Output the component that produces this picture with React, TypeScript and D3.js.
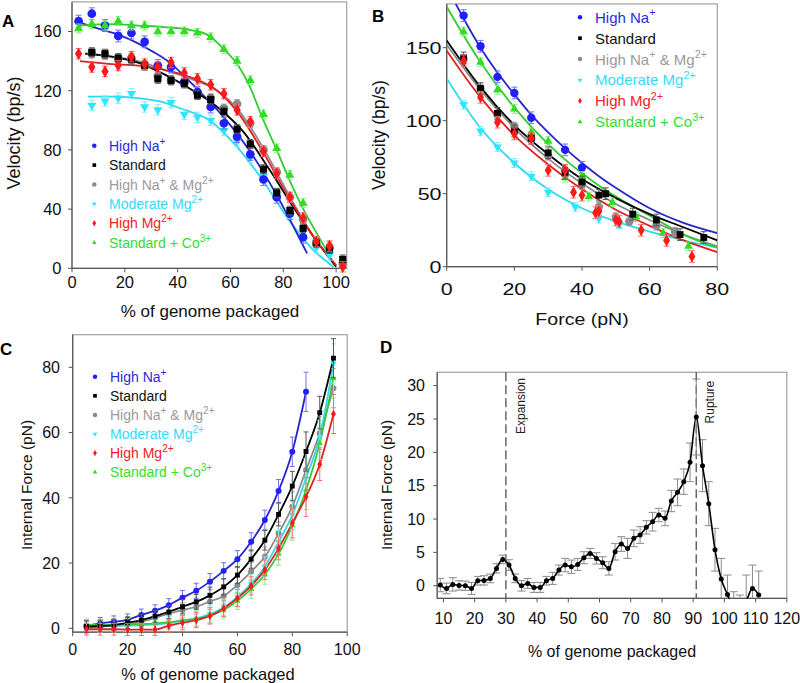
import React from 'react';
import * as d3 from 'd3';

const width = 800;
const height = 683;
const font = 'Liberation Sans, Arial, sans-serif';

// ---------- panel A: velocity vs % of genome packaged ----------
const xA = [2.5, 7.5, 12.5, 17.5, 22.5, 27.5, 32.5, 37.5, 42.5, 47.5, 52.5, 57.5, 62.5, 67.5, 72.5, 77.5, 82.5, 87.5, 92.5, 97.5, 102.5];
const aHighNa = [167, 172, 164, 157, 159, 153, 137, 136, 126, 119, 109, 98, 89, 77, 60, 48, 37, 21, null, null, null];
const aStd = [null, 146, 145, 142, 141, 137, 128, 127, 125, 117, 114, 106, 94, 84, 67, 51, 39, 27, 17, 13, 6];
const aNaMg = [null, 145, 144, 142, 142, 137, 130, 127, 125, 119, 115, 108, 111, 98, 80, 65, 48, 33, 17, 14, 3];
const aModMg = [null, 110, 113, 115, 118, 109, 107, 112, 104, 102, 100, 93, 86, 75, 62, 50, 37, 25, 14, 9, null];
const aHighMg = [145, 136, 133, 137, 143, 138, 136, 139, 132, 128, 124, 118, 107, 99, 79, 64, 48, 34, 18, 15, 1];
const aCo = [162, 165, 164, 167, 164, 164, 160, 160, 160, 159, 156, 148, 140, 127, 104, 81, 63, 44, null, 15, null];
// error bar half widths, legend order
const errA = [4, 3, 3, 3.5, 3.5, 3];

// fitted curves
const fitAHighNa = [[3, 166], [10, 162], [18, 157.6], [25, 152], [30, 147], [37, 139], [43, 129], [48, 120], [57, 103], [67, 80], [77, 51], [89, 10]];
const fitAStd = [[5, 145], [15, 143], [25, 139], [35, 131], [45, 121], [55, 109], [65, 92], [75, 66], [85, 38], [92, 20], [100, 1]];
const fitANaMg = [[5, 145], [15, 143], [25, 140], [35, 134], [45, 128], [55, 120], [62.5, 108], [72.5, 81], [82, 50], [91.6, 21], [100, 2]];
const fitAModMg = [[6, 116], [15, 116], [25, 115], [35, 112], [41, 108], [52, 100], [62.5, 82], [72, 60], [82, 33], [91, 13], [99, 1]];
const fitAHighMg = [[3, 140], [15, 138], [25, 137], [35, 134], [45, 129], [55, 120], [62.5, 106], [72.5, 78], [82, 48], [91.6, 21], [100, 2]];
const fitACo = [[3, 164], [15, 165], [25, 164], [35, 163], [45, 161], [52, 157], [57.5, 148], [62.5, 138], [67.5, 122], [72, 102], [77.5, 80], [82, 61], [87, 42], [95.4, 15], [99, 3]];

// ---------- panel B: velocity vs force ----------
const bHighNaX = [5, 10, 15, 20, 25, 35, 40];
const bHighNaY = [172, 151, 130, 119, 102, 80, 68];
const bStdX = [5, 10, 15, 20, 25, 30, 35, 40, 45, 47, 55, 62, 69, 76];
const bStdY = [143, 122, 105, 93, 88, 78, 64, 58, 49, 50, 36, 32, 22, 20];
const bNaMgX = [5, 10, 15, 20, 25, 30, 35, 40, 45, 50, 54, 62, 67.5];
const bNaMgY = [142, 122, 104, 96, 88, 76, 66, 57, 41, 34, 31, 28, 24];
const bModMgX = [5, 10, 15, 20, 25, 30, 38, 45, 51];
const bModMgY = [111, 93, 82, 71, 62, 51, 41, 33, 29];
const bHighMgX = [5, 10, 15, 20, 25, 30, 35, 37.5, 40, 44, 45, 50, 51, 57.5, 65, 72.5];
const bHighMgY = [141, 116, 99, 91, 88, 66, 66, 51, 49, 37, 38, 32, 31, 25, 18, 7];
const bCoX = [5, 10, 15, 20, 25, 30, 35, 40, 42, 49, 56, 64, 71.5];
const bCoY = [161, 140, 121, 108, 92, 86, 61, 62, 48, 44, 34, 23, 14];
const errB = [4, 4, 3, 3, 4, 3];

const fitBHighNa = [[0, 192], [5, 170], [10, 150], [15, 133], [20, 118], [25, 104], [30, 92], [35, 81], [40, 71], [45, 62], [50, 54], [60, 40], [70, 30], [80, 23]];
const fitBStd = [[0, 155], [10, 123], [20, 97], [30, 77], [40, 60], [50, 47], [60, 36], [70, 27], [80, 18]];
const fitBNaMg = [[0, 152], [10, 121], [20, 95], [30, 74], [40, 57], [50, 43], [60, 32], [70, 22], [80, 14]];
const fitBModMg = [[0, 129], [10, 95], [20, 71], [30, 53], [40, 40], [50, 31], [60, 24], [70, 18], [80, 13]];
const fitBHighMg = [[0, 148], [10, 116], [20, 90], [30, 70], [40, 53], [50, 39], [60, 28], [70, 18], [80, 10]];
const fitBCo = [[0, 178], [10, 140], [20, 109], [30, 84], [40, 64], [50, 48], [60, 35], [70, 22], [80, 13]];

// ---------- panel C: internal force vs % packaged ----------
const xC = [5, 10, 15, 20, 25, 30, 35, 40, 45, 50, 55, 60, 65, 70, 75, 80, 85, 90, 95];
const cHighNa = [0.8, 1.5, 2, 2.6, 4.1, 5.4, 7.1, 9.4, 11.5, 14.3, 17.6, 21.2, 26.5, 33.2, 42.1, 54.1, 72.5, null, null];
const cStd = [0.5, 0.7, 1, 1.7, 2.5, 3.7, 5, 6.6, 8.1, 10.1, 12.7, 16.3, 21.2, 27, 34.9, 43.6, 54.2, 66.1, 82.8];
const cNaMg = [0.3, 0.5, 0.9, 1.3, 2, 3.2, 4.5, 5.6, 6.6, 8.2, 9.9, 13.3, 17.4, 21.9, 29.1, 37.3, 48.5, 59.8, 73.6];
const cModMg = [0.5, 0.6, 0.7, 0.8, 1, 1.2, 1.6, 2.4, 3, 4.4, 6.4, 9.6, 13.6, 18.9, 26.5, 34.7, 46, 58.7, 81.2];
const cHighMg = [-0.3, -0.3, -0.3, -0.4, -0.4, -0.4, 0.8, 1.7, 2.5, 3.8, 6.1, 9.2, 13, 17.9, 24.5, 32.2, 40.3, 50.3, 65.7];
const cCo = [1, 1, 1.1, 1.2, 1.3, 1.5, 1.9, 2.4, 2.9, 3.9, 5.6, 8.4, 12, 16.5, 22.8, 31.5, 42.4, 56.7, 76.6];
const errC = [1.8, 1.8, 1.8, 1.8, 1.8, 1.8, 2, 2.2, 2.3, 2.5, 2.5, 2.6, 2.8, 3, 3.5, 4.5, 6, 5, 6];

// ---------- panel D: internal force, standard conditions ----------
const xD = [9, 11, 13, 15, 17, 19, 21, 23, 25, 27, 29, 31, 33, 35, 37, 39, 41, 43, 45, 47, 49, 51, 53, 55, 57, 59, 61, 63, 65, 67, 69, 71, 73, 75, 77, 79, 81, 83, 85, 87, 89, 91, 93, 95, 97, 99, 101, 103, 105, 107, 109, 111];
const dForce = [0.1, -0.4, 0.2, 0.05, 0, -0.4, 0.75, 0.8, 1.1, 2.6, 3.95, 3.1, 1.1, 0, 0.35, -0.25, -0.25, 0.75, 1.1, 2.35, 3.1, 2.85, 3.2, 4.2, 4.85, 4.1, 3.45, 2.6, 5.1, 6.25, 5.6, 7.1, 7.6, 8.75, 9.6, 10.6, 10.1, 12.7, 14, 15.6, 18.5, 25.3, 18, 12.3, 5.4, 1, -1.3, -3.2, -3.5, -2.3, -0.4, -1.4];
const dErr = [1, 0.8, 1, 0.7, 0.7, 0.9, 0.65, 0.7, 0.65, 0.7, 0.65, 0.8, 0.65, 0.8, 0.75, 0.75, 0.75, 0.65, 0.9, 0.75, 1, 1, 0.9, 0.9, 0.75, 0.85, 0.9, 1, 1.25, 1.1, 1.5, 1.25, 1.25, 1, 1.4, 1, 1.1, 1.6, 2, 1.9, 2.9, 5.7, 3.9, 3.3, 3.2, 3.1, 2.9, 2.3, 2.1, 3.9, 3.5, 3.6];
const dMarkers = [30, 91];
const dMarkerLabels = ['Expansion', 'Rupture'];

// ---------- series look ----------
const legendOrder = ['highNa', 'std', 'naMg', 'modMg', 'highMg', 'co'];
const drawOrder = ['naMg', 'modMg', 'highNa', 'co', 'std', 'highMg'];
const labelParts = {
  highNa: [['High Na', false], ['+', true]],
  std: [['Standard', false]],
  naMg: [['High Na', false], ['+', true], [' & Mg', false], ['2+', true]],
  modMg: [['Moderate Mg', false], ['2+', true]],
  highMg: [['High Mg', false], ['2+', true]],
  co: [['Standard + Co', false], ['3+', true]],
};
const look = {
  highNa: { mark: '#1f1fff', line: '#2626cc', text: '#2a2ae0', err: '#7070ff', shape: 'circle' },
  std: { mark: '#000', line: '#000', text: '#111', err: '#555', shape: 'square' },
  naMg: { mark: '#8a8a8a', line: '#8a8a8a', text: '#9a9a9a', err: '#aaa', shape: 'circle' },
  modMg: { mark: '#2ee6ff', line: '#30d8f0', text: '#33dcff', err: '#80eeff', shape: 'triangleDown' },
  highMg: { mark: '#ff1a1a', line: '#e02020', text: '#ee2222', err: '#ff7070', shape: 'diamond' },
  co: { mark: '#30dd20', line: '#33cc33', text: '#33dd33', err: '#88ee88', shape: 'triangle' },
};

const pair = (xs, ys) => xs.map((x, i) => [x, ys[i]]).filter(d => d[1] != null);
const ptsA = { highNa: pair(xA, aHighNa), std: pair(xA, aStd), naMg: pair(xA, aNaMg), modMg: pair(xA, aModMg), highMg: pair(xA, aHighMg), co: pair(xA, aCo) };
const fitsA = { highNa: fitAHighNa, std: fitAStd, naMg: fitANaMg, modMg: fitAModMg, highMg: fitAHighMg, co: fitACo };
const ptsB = { highNa: pair(bHighNaX, bHighNaY), std: pair(bStdX, bStdY), naMg: pair(bNaMgX, bNaMgY), modMg: pair(bModMgX, bModMgY), highMg: pair(bHighMgX, bHighMgY), co: pair(bCoX, bCoY) };
const fitsB = { highNa: fitBHighNa, std: fitBStd, naMg: fitBNaMg, modMg: fitBModMg, highMg: fitBHighMg, co: fitBCo };
const withErr = (xs, ys, es) => xs.map((x, i) => [x, ys[i], es[i]]).filter(d => d[1] != null);
const ptsC = { highNa: withErr(xC, cHighNa, errC), std: withErr(xC, cStd, errC), naMg: withErr(xC, cNaMg, errC), modMg: withErr(xC, cModMg, errC), highMg: withErr(xC, cHighMg, errC), co: withErr(xC, cCo, errC) };
const ptsD = withErr(xD, dForce, dErr);

// scales
const xsA = d3.scaleLinear().domain([0, 104]).range([72, 346.7]);
const ysA = d3.scaleLinear().domain([0, 180]).range([268.3, 1.9]);
const xsB = d3.scaleLinear().domain([0, 80]).range([446.7, 717.3]);
const ysB = d3.scaleLinear().domain([0, 180]).range([266.7, 3.9]);
const xsC = d3.scaleLinear().domain([0, 100]).range([72.7, 347.2]);
const ysC = d3.scaleLinear().domain([-1.2, 90]).range([632.2, 334.7]);
const xsD = d3.scaleLinear().domain([8, 120]).range([437.2, 786.8]);
const ysD = d3.scaleLinear().domain([-1.9, 32]).range([598.4, 372.3]);

const symbolType = { circle: d3.symbolCircle, square: d3.symbolSquare, diamond: d3.symbolDiamond, triangle: d3.symbolTriangle, triangleDown: d3.symbolTriangle };
// triangles and diamonds look larger than circles at the same area
const symbolScale = { circle: 1, square: 0.85, diamond: 0.75, triangle: 0.6, triangleDown: 0.6 };

function Marker({ x, y, shape, size, fill }) {
  const d = d3.symbol().type(symbolType[shape]).size(size * symbolScale[shape])();
  const rot = shape === 'triangleDown' ? ' rotate(180)' : '';
  return <path d={d} transform={`translate(${x},${y})${rot}`} fill={fill} />;
}

function ErrBar({ x, ya, yb, cap, stroke }) {
  return (
    <g stroke={stroke} strokeWidth={1} fill="none">
      <line x1={x} x2={x} y1={ya} y2={yb} />
      <line x1={x - cap} x2={x + cap} y1={ya} y2={ya} />
      <line x1={x - cap} x2={x + cap} y1={yb} y2={yb} />
    </g>
  );
}

function Label({ parts, size }) {
  let up = false;
  return parts.map(([t, sup], i) => {
    let dy = 0;
    if (sup && !up) { dy = -size * 0.42; up = true; }
    else if (!sup && up) { dy = size * 0.42; up = false; }
    return <tspan key={i} dy={dy} fontSize={sup ? size * 0.72 : size}>{t}</tspan>;
  });
}

function Legend({ markX, textX, y0, dy, size }) {
  return (
    <g>
      {legendOrder.map((k, i) => {
        const y = y0 + i * dy;
        return (
          <g key={k}>
            <Marker x={markX} y={y} shape={look[k].shape} size={16} fill={look[k].mark} />
            <text x={textX} y={y + size * 0.36} fill={look[k].text} fontSize={size}>
              <Label parts={labelParts[k]} size={size} />
            </text>
          </g>
        );
      })}
    </g>
  );
}

function Axes({ xs, ys, xTicks, yTicks, xBase, yRight, size = 16, sx = 1 }) {
  const [x0, x1] = xs.range();
  const [y1, y0] = ys.range();
  return (
    <g fontSize={size}>
      <rect x={x0} y={y0} width={x1 - x0} height={y1 - y0} fill="none" stroke="#a0a0a0" strokeWidth={1.2} />
      <line x1={x0} x2={x0} y1={y0} y2={y1} stroke="#555" strokeWidth={1.2} />
      <line x1={x0} x2={x1} y1={y1} y2={y1} stroke="#555" strokeWidth={1.2} />
      {xTicks.map(t => (
        <g key={'x' + t}>
          <line x1={xs(t)} x2={xs(t)} y1={y1} y2={y1 + 4} stroke="#555" />
          <text transform={`translate(${xs(t)},${xBase}) scale(${sx},1)`} textAnchor="middle" fill="#111">{t}</text>
        </g>
      ))}
      {yTicks.map(t => (
        <g key={'y' + t}>
          <line x1={x0 - 4} x2={x0} y1={ys(t)} y2={ys(t)} stroke="#555" />
          <text transform={`translate(${yRight},${ys(t)}) scale(${sx},1)`} dy="0.36em" textAnchor="end" fill="#111">{t}</text>
        </g>
      ))}
    </g>
  );
}

function YTitle({ x, y, size, children }) {
  return <text transform={`translate(${x},${y}) rotate(-90)`} textAnchor="middle" fontSize={size} fill="#111">{children}</text>;
}

function FitPanel({ xs, ys, pts, fits, errs, size, cap, clip, curve }) {
  const line = d3.line().x(d => xs(d[0])).y(d => ys(d[1])).curve(curve);
  return (
    <g>
      <g clipPath={clip}>
        {drawOrder.map(k => (
          <path key={k} d={line(fits ? fits[k] : pts[k])} fill="none" stroke={look[k].line} strokeWidth={1.8} />
        ))}
      </g>
      {drawOrder.map(k => {
        const e = errs ? errs[legendOrder.indexOf(k)] : null;
        return (
          <g key={k}>
            {pts[k].map((d, i) => {
              const err = d[2] != null ? d[2] : e;
              return <ErrBar key={i} x={xs(d[0])} ya={ys(d[1] + err)} yb={ys(d[1] - err)} cap={cap} stroke={look[k].err} />;
            })}
            {pts[k].map((d, i) => (
              <Marker key={'m' + i} x={xs(d[0])} y={ys(d[1])} shape={look[k].shape} size={size} fill={look[k].mark} />
            ))}
          </g>
        );
      })}
    </g>
  );
}

export default function App() {
  const lineD = d3.line().x(d => xsD(d[0])).y(d => ysD(d[1])).curve(d3.curveMonotoneX);
  return (
    <svg width={width} height={height} style={{ position: 'absolute', left: 0, top: 0, background: '#fff' }} fontFamily={font}>
      <defs>
        <clipPath id="clipA"><rect x={72} y={1.9} width={274.7} height={266.4} /></clipPath>
        <clipPath id="clipB"><rect x={446.7} y={3.9} width={270.6} height={262.8} /></clipPath>
        <clipPath id="clipD"><rect x={437.2} y={372.3} width={349.6} height={226.1} /></clipPath>
      </defs>

      {/* A */}
      <Axes xs={xsA} ys={ysA} xTicks={[0, 20, 40, 60, 80, 100]} yTicks={[0, 40, 80, 120, 160]} xBase={288} yRight={61.5} size={16.5} />
      <FitPanel xs={xsA} ys={ysA} pts={ptsA} fits={fitsA} errs={errA} size={60} cap={3} clip="url(#clipA)" curve={d3.curveMonotoneX} />
      <Legend markX={94.3} textX={109} y0={145.7} dy={19.4} size={14} />
      <text x={210} y={317} textAnchor="middle" fontSize={17} fill="#111">% of genome packaged</text>
      <YTitle x={20} y={133} size={18}>Velocity (bp/s)</YTitle>
      <text x={2} y={27} fontSize={17} fontWeight="bold">A</text>

      {/* B */}
      <Axes xs={xsB} ys={ysB} xTicks={[0, 20, 40, 60, 80]} yTicks={[0, 50, 100, 150]} xBase={295} yRight={441.5} size={16.5} sx={1.3} />
      <FitPanel xs={xsB} ys={ysB} pts={ptsB} fits={fitsB} errs={errB} size={55} cap={3} clip="url(#clipB)" curve={d3.curveMonotoneX} />
      <Legend markX={580} textX={595} y0={17.3} dy={20.9} size={15} />
      <text transform="translate(582,325) scale(1.15,1)" textAnchor="middle" fontSize={17} fill="#111">Force (pN)</text>
      <YTitle x={385} y={135} size={17.5}>Velocity (bp/s)</YTitle>
      <text x={372} y={22} fontSize={17} fontWeight="bold">B</text>

      {/* C */}
      <Axes xs={xsC} ys={ysC} xTicks={[0, 20, 40, 60, 80, 100]} yTicks={[0, 20, 40, 60, 80]} xBase={655} yRight={60} size={16} />
      <FitPanel xs={xsC} ys={ysC} pts={ptsC} fits={null} errs={null} size={28} cap={2.5} clip={null} curve={d3.curveMonotoneX} />
      <Legend markX={95} textX={110} y0={376.7} dy={19.1} size={14} />
      <text x={208} y={680} textAnchor="middle" fontSize={16.5} fill="#111">% of genome packaged</text>
      <YTitle x={32} y={485} size={15.5}>Internal Force (pN)</YTitle>
      <text x={0} y={355} fontSize={17} fontWeight="bold">C</text>

      {/* D */}
      <Axes xs={xsD} ys={ysD} xTicks={[10, 20, 30, 40, 50, 60, 70, 80, 90, 100, 110, 120]} yTicks={[0, 5, 10, 15, 20, 25, 30]} xBase={624} yRight={425} size={16} />
      {dMarkers.map((m, i) => (
        <g key={m}>
          <line x1={xsD(m)} x2={xsD(m)} y1={ysD.range()[1]} y2={ysD.range()[0]} stroke="#666" strokeWidth={1.5} strokeDasharray="9,4" />
          <text transform={`translate(${xsD(m) + (i === 0 ? 19 : 18)},${i === 0 ? 378 : 380.7}) rotate(-90)`} textAnchor="end" fontSize={12} fill="#222">{dMarkerLabels[i]}</text>
        </g>
      ))}
      <g clipPath="url(#clipD)">
        {ptsD.map((d, i) => (
          <ErrBar key={i} x={xsD(d[0])} ya={ysD(d[1] + d[2])} yb={ysD(d[1] - d[2])} cap={4} stroke="#8a8a8a" />
        ))}
        <path d={lineD(ptsD)} fill="none" stroke="#000" strokeWidth={1.6} />
        {ptsD.map((d, i) => (
          <circle key={'p' + i} cx={xsD(d[0])} cy={ysD(d[1])} r={2.5} fill="#000" />
        ))}
      </g>
      <text x={612} y={656.5} textAnchor="middle" fontSize={16} fill="#111">% of genome packaged</text>
      <YTitle x={392} y={485} size={15.5}>Internal Force (pN)</YTitle>
      <text x={380} y={353} fontSize={17} fontWeight="bold">D</text>
    </svg>
  );
}
